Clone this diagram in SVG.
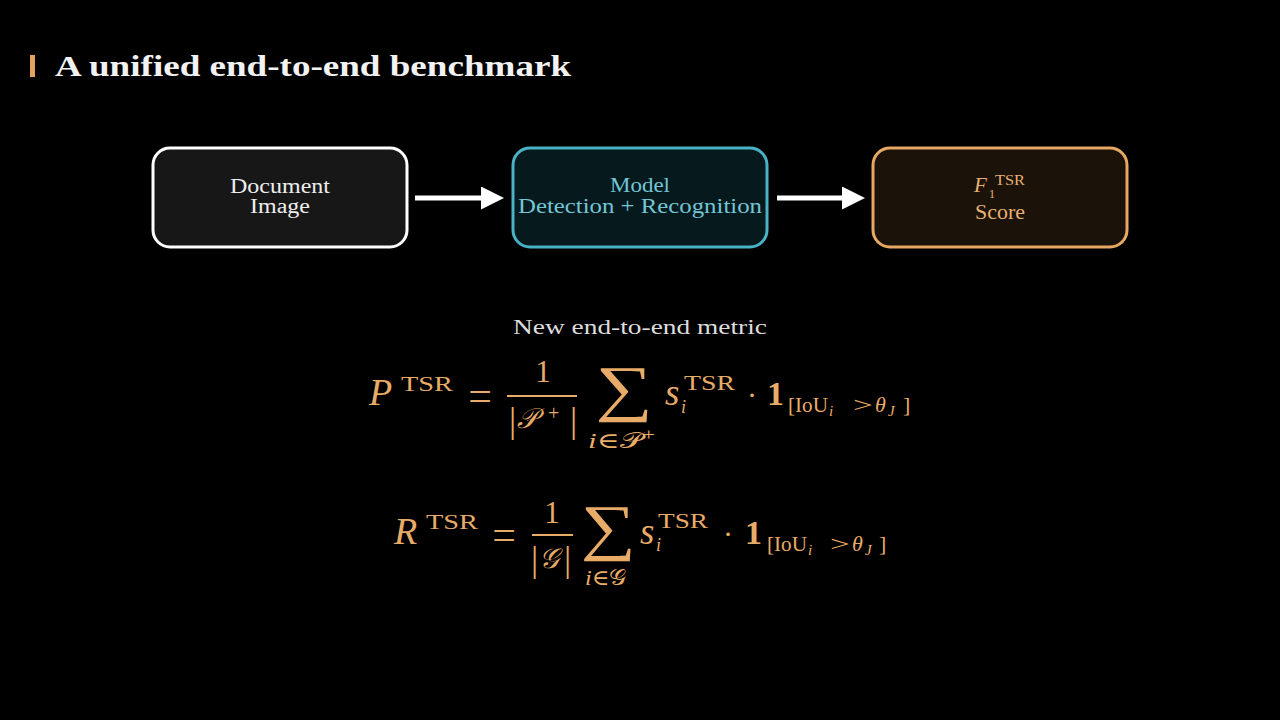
<svg xmlns="http://www.w3.org/2000/svg" width="1280" height="720" viewBox="0 0 1280 720">
<defs>
<style>
.t{font-family:"Liberation Serif","DejaVu Serif",serif;}
.m{font-family:"Liberation Serif","DejaVu Serif",serif;fill:#e8ac68;}
.cal{font-family:"DejaVu Serif","Noto Sans",serif;}
.it{font-style:italic;}
</style>
<marker id="ah" viewBox="0 0 10 10" refX="0" refY="5" markerWidth="5" markerHeight="4.6" orient="auto" markerUnits="strokeWidth">
<path d="M0,0 L10,5 L0,10 Z" fill="#ffffff"/>
</marker>
</defs>
<rect width="1280" height="720" fill="#000"/>
<g id="title">
<rect x="30" y="55" width="5" height="22" fill="#e0a460"/>
<text class="t" x="55" y="76" font-size="29" font-weight="bold" fill="#f2f2f2" textLength="516" lengthAdjust="spacingAndGlyphs">A unified end-to-end benchmark</text>
</g>
<g id="node-document">
<rect x="153" y="148" width="254" height="99" rx="17" fill="#171717" stroke="#ffffff" stroke-width="3"/>
<text class="t" x="230" y="193" font-size="20" fill="#eeeeee" textLength="100" lengthAdjust="spacingAndGlyphs">Document</text>
<text class="t" x="250" y="213" font-size="20" fill="#eeeeee" textLength="60" lengthAdjust="spacingAndGlyphs">Image</text>
</g>
<g id="node-model">
<rect x="513" y="148" width="254" height="99" rx="17" fill="#06191d" stroke="#4ab2c6" stroke-width="3"/>
<text class="t" x="610" y="192" font-size="20" fill="#72c6d6" textLength="60" lengthAdjust="spacingAndGlyphs">Model</text>
<text class="t" x="518" y="213" font-size="20" fill="#72c6d6" textLength="244" lengthAdjust="spacingAndGlyphs">Detection + Recognition</text>
</g>
<g id="node-score">
<rect x="873" y="148" width="254" height="99" rx="17" fill="#1b1209" stroke="#e6a862" stroke-width="3"/>
<text class="t it" x="974" y="192" font-size="21" fill="#e8b070">F</text>
<text class="t" x="995" y="185" font-size="14" fill="#e8b070" textLength="30" lengthAdjust="spacingAndGlyphs">TSR</text>
<text class="t" x="989" y="198" font-size="12" fill="#e8b070">1</text>
<text class="t" x="975" y="219" font-size="20" fill="#e8b070" textLength="50" lengthAdjust="spacingAndGlyphs">Score</text>
</g>
<g id="connectors">
<line x1="415" y1="198" x2="481" y2="198" stroke="#ffffff" stroke-width="5" marker-end="url(#ah)"/>
<line x1="777" y1="198" x2="842" y2="198" stroke="#ffffff" stroke-width="5" marker-end="url(#ah)"/>
</g>
<g id="metric-caption">
<text class="t" x="513" y="334" font-size="21" fill="#dddddd" textLength="254" lengthAdjust="spacingAndGlyphs">New end-to-end metric</text>
</g>
<g id="formula-precision">
<text class="m it" x="369" y="405" font-size="38">P</text>
<text class="m" x="401" y="391" font-size="20" textLength="52" lengthAdjust="spacingAndGlyphs">TSR</text>
<text class="m" x="480" y="410" font-size="42" text-anchor="middle">=</text>
<text class="m" x="543" y="382" font-size="31" text-anchor="middle">1</text>
<rect x="507" y="395" width="70" height="2" fill="#e8ac68"/>
<text class="m" x="509" y="432" font-size="36">|</text>
<text class="m cal it" x="517" y="428" font-size="28">𝒫</text>
<text class="m" x="548" y="420" font-size="20">+</text>
<text class="m" x="570" y="432" font-size="36">|</text>
<text class="m" font-size="62" text-anchor="middle" transform="translate(624,409) scale(1.3,1)">∑</text>
<text class="m" x="588" y="448" font-size="22" textLength="67" lengthAdjust="spacingAndGlyphs"><tspan font-style="italic">i</tspan>∈<tspan class="cal">𝒫</tspan><tspan dy="-8" font-size="16">+</tspan></text>
<text class="m it" x="665" y="405" font-size="37">s</text>
<text class="m" x="684" y="390" font-size="20" textLength="51" lengthAdjust="spacingAndGlyphs">TSR</text>
<text class="m it" x="681" y="413" font-size="18">i</text>
<text class="m" x="752" y="405" font-size="30" text-anchor="middle">·</text>
<text class="m" x="767" y="405" font-size="34" font-weight="bold">1</text>
<text class="m" x="788" y="412" font-size="22" textLength="40" lengthAdjust="spacingAndGlyphs">[IoU</text>
<text class="m it" x="829" y="416" font-size="15">i</text>
<text class="m" font-size="22" text-anchor="middle" transform="translate(863,412) scale(1.6,1)">&gt;</text>
<text class="m it" x="875" y="412" font-size="22">θ</text>
<text class="m it" x="888" y="416" font-size="15">J</text>
<text class="m" x="903" y="412" font-size="22">]</text>
</g>
<g id="formula-recall">
<text class="m it" x="394" y="544" font-size="38">R</text>
<text class="m" x="426" y="529" font-size="20" textLength="52" lengthAdjust="spacingAndGlyphs">TSR</text>
<text class="m" x="504" y="549" font-size="42" text-anchor="middle">=</text>
<text class="m" x="552" y="523" font-size="31" text-anchor="middle">1</text>
<rect x="532" y="534" width="41" height="2" fill="#e8ac68"/>
<text class="m" x="531" y="571" font-size="36">|</text>
<text class="m cal it" x="539" y="568" font-size="28">𝒢</text>
<text class="m" x="564" y="571" font-size="36">|</text>
<text class="m" font-size="62" text-anchor="middle" transform="translate(608,548) scale(1.25,1)">∑</text>
<text class="m" x="585" y="585" font-size="22" textLength="42" lengthAdjust="spacingAndGlyphs"><tspan font-style="italic">i</tspan>∈<tspan class="cal">𝒢</tspan></text>
<text class="m it" x="640" y="544" font-size="37">s</text>
<text class="m" x="658" y="528" font-size="20" textLength="50" lengthAdjust="spacingAndGlyphs">TSR</text>
<text class="m it" x="656" y="551" font-size="18">i</text>
<text class="m" x="728" y="544" font-size="30" text-anchor="middle">·</text>
<text class="m" x="745" y="544" font-size="34" font-weight="bold">1</text>
<text class="m" x="767" y="551" font-size="22" textLength="40" lengthAdjust="spacingAndGlyphs">[IoU</text>
<text class="m it" x="808" y="555" font-size="15">i</text>
<text class="m" font-size="22" text-anchor="middle" transform="translate(840,551) scale(1.6,1)">&gt;</text>
<text class="m it" x="852" y="551" font-size="22">θ</text>
<text class="m it" x="865" y="555" font-size="15">J</text>
<text class="m" x="879" y="551" font-size="22">]</text>
</g>
</svg>
